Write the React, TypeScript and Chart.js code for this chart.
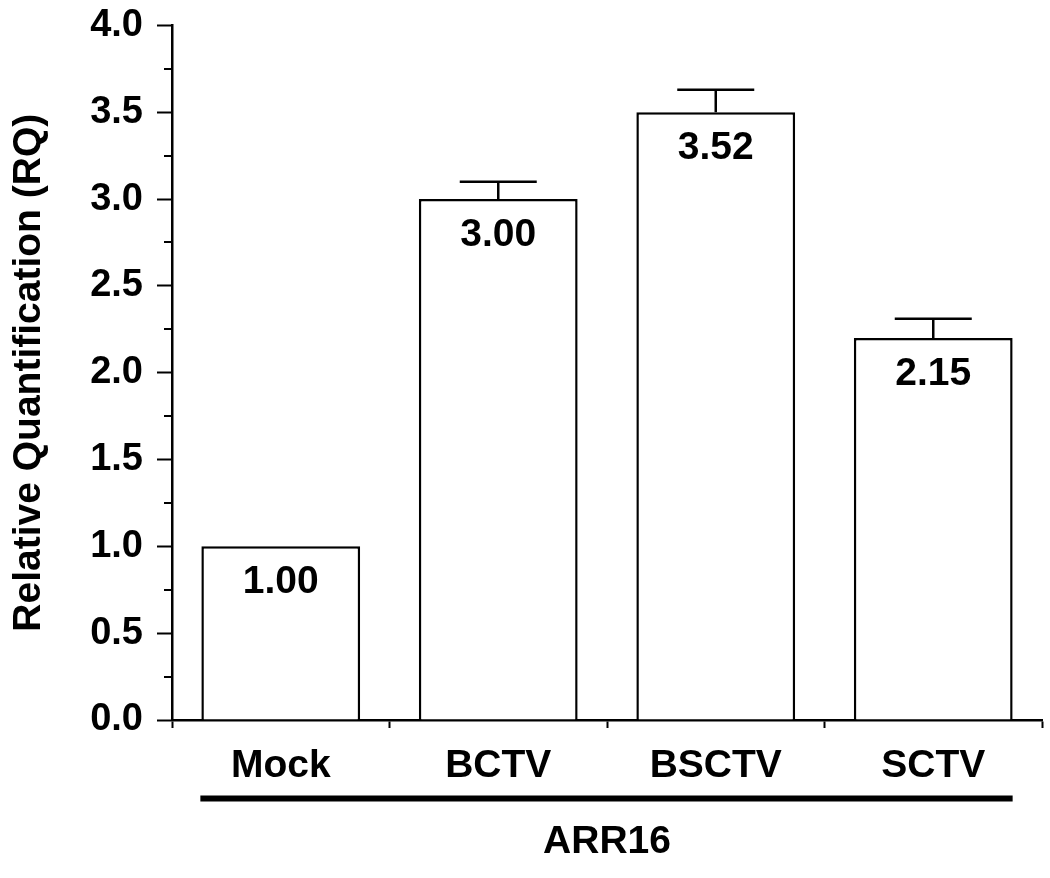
import React, { useEffect, useRef } from "react";
import { Chart, registerables } from "chart.js";

Chart.register(...registerables);

const categories = ["Mock", "BCTV", "BSCTV", "SCTV"];
const rqValues = [1.0, 3.0, 3.5, 2.2];
const errorUpper = [0, 0.1, 0.13, 0.11];
const valueLabels = ["1.00", "3.00", "3.52", "2.15"];
const groupLabel = "ARR16";
const yAxisTitle = "Relative Quantification (RQ)";
const yMin = 0;
const yMax = 4;
const yMajorStep = 0.5;
const yMinorTicks = [0.25, 0.75, 1.25, 1.75, 2.25, 2.75, 3.25, 3.75];

const FONT = "'Liberation Sans', Arial, Helvetica, sans-serif";

const overlayPlugin = {
  id: "overlay",
  afterDatasetsDraw(chart: any) {
    const ctx = chart.ctx;
    const yScale = chart.scales.y;
    const area = chart.chartArea;
    const meta = chart.getDatasetMeta(0);
    ctx.save();
    ctx.strokeStyle = "#000";
    ctx.fillStyle = "#000";

    // minor ticks
    ctx.lineWidth = 2;
    yMinorTicks.forEach((v) => {
      const y = Math.round(yScale.getPixelForValue(v));
      ctx.beginPath();
      ctx.moveTo(area.left - 8, y);
      ctx.lineTo(area.left, y);
      ctx.stroke();
    });

    // error bars
    ctx.lineWidth = 2.5;
    meta.data.forEach((bar: any, i: number) => {
      const err = errorUpper[i];
      if (!err) return;
      const top = yScale.getPixelForValue(rqValues[i] + err);
      ctx.beginPath();
      ctx.moveTo(bar.x, bar.y);
      ctx.lineTo(bar.x, top);
      ctx.moveTo(bar.x - 38.5, top);
      ctx.lineTo(bar.x + 38.5, top);
      ctx.stroke();
    });

    // value labels
    ctx.font = `bold 39px ${FONT}`;
    ctx.textAlign = "center";
    ctx.textBaseline = "alphabetic";
    meta.data.forEach((bar: any, i: number) => {
      ctx.fillText(valueLabels[i], bar.x, bar.y + 47);
    });

    // group underline
    const first = meta.data[0];
    const last = meta.data[meta.data.length - 1];
    ctx.lineWidth = 6;
    ctx.beginPath();
    ctx.moveTo(first.x - first.width / 2 - 1, area.bottom + 78.5);
    ctx.lineTo(last.x + last.width / 2, area.bottom + 78.5);
    ctx.stroke();
    ctx.restore();
  },
};

export default function App() {
  const canvasRef = useRef<HTMLCanvasElement | null>(null);

  useEffect(() => {
    const canvas = canvasRef.current;
    if (!canvas) return;
    const chart = new Chart(canvas, {
      type: "bar",
      data: {
        labels: categories,
        datasets: [
          {
            data: rqValues,
            backgroundColor: "#ffffff",
            borderColor: "#000000",
            borderWidth: 2.5,
            categoryPercentage: 1,
            barPercentage: 0.73,
          },
        ],
      },
      options: {
        responsive: false,
        animation: false,
        devicePixelRatio: 1,
        layout: { padding: { top: 25, right: 8, left: 0, bottom: 0 } },
        plugins: {
          legend: { display: false },
          tooltip: { enabled: false },
        },
        scales: {
          x: {
            offset: true,
            grid: {
              offset: true,
              drawOnChartArea: false,
              drawTicks: true,
              tickLength: 8,
              tickWidth: 2,
              tickColor: "#000",
            },
            border: { display: true, color: "#000", width: 2.5 },
            ticks: {
              color: "#000",
              padding: 15,
              font: { family: FONT, size: 39, weight: "bold" },
              maxRotation: 0,
              autoSkip: false,
            },
            title: {
              display: true,
              text: groupLabel,
              color: "#000",
              font: { family: FONT, size: 39, weight: "bold" },
              padding: { top: 0, bottom: 12 },
            },
            afterFit(scale: any) {
              scale.height = 158;
            },
          },
          y: {
            min: yMin,
            max: yMax,
            grid: {
              drawOnChartArea: false,
              drawTicks: true,
              tickLength: 15,
              tickWidth: 2,
              tickColor: "#000",
            },
            border: { display: true, color: "#000", width: 2.5 },
            ticks: {
              stepSize: yMajorStep,
              color: "#000",
              padding: 14,
              font: { family: FONT, size: 38, weight: "bold", lineHeight: 0.6 },
              callback: (v: any) => Number(v).toFixed(1),
            },
            title: {
              display: true,
              text: yAxisTitle,
              color: "#000",
              font: { family: FONT, size: 39, weight: "bold" },
              padding: { top: 6, bottom: 0 },
            },
            afterFit(scale: any) {
              scale.width = 172;
            },
          },
        },
      },
      plugins: [overlayPlugin],
    });
    return () => chart.destroy();
  }, []);

  return (
    <div
      style={{
        position: "absolute",
        left: 0,
        top: 0,
        width: 1050,
        height: 878,
        background: "#fff",
      }}
    >
      <canvas ref={canvasRef} width={1050} height={878} />
    </div>
  );
}
